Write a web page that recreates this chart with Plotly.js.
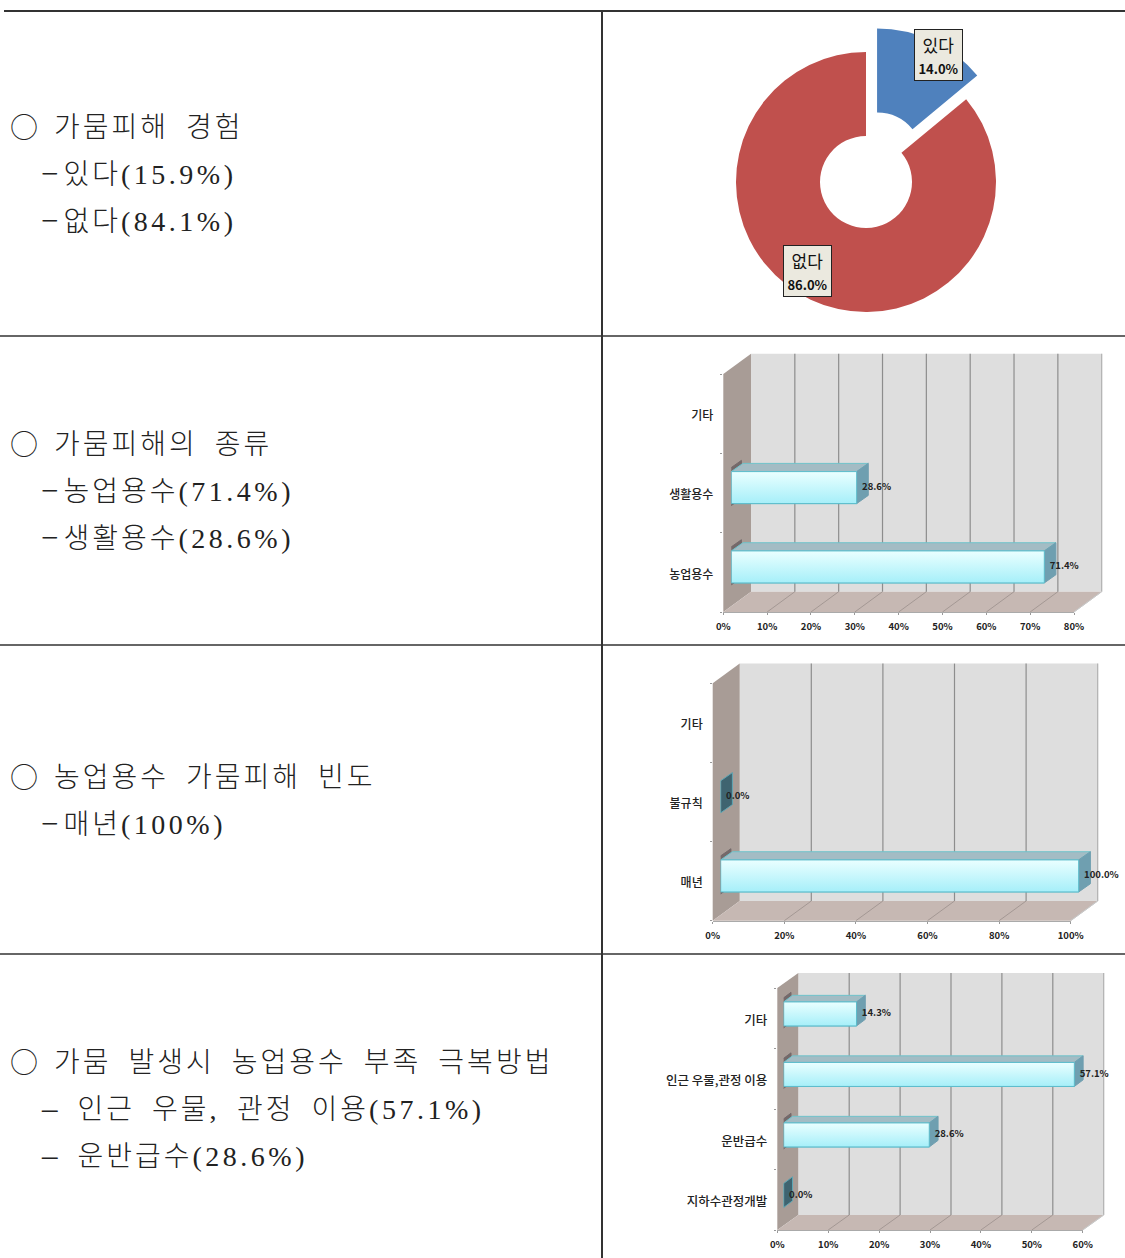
<!DOCTYPE html>
<html><head><meta charset="utf-8">
<script src="https://cdn.plot.ly/plotly-3.0.1.min.js"></script>
<style>html,body{margin:0;padding:0;background:#fff}</style></head>
<body><div id="chart" style="width:1125px;height:1258px"></div>
<script>
// ---- data ----
const pieLabels = ['있다', '없다'];
const pieValues = [14.0, 86.0];

const typeCats = ['농업용수', '생활용수', '기타'];
const typeVals = [71.4, 28.6, null];
const typeTicks = [0, 10, 20, 30, 40, 50, 60, 70, 80];

const freqCats = ['매년', '불규칙', '기타'];
const freqVals = [100.0, 0.0, null];
const freqTicks = [0, 20, 40, 60, 80, 100];

const copeCats = ['지하수관정개발', '운반급수', '인근 우물,관정 이용', '기타'];
const copeVals = [0.0, 28.6, 57.1, 14.3];
const copeTicks = [0, 10, 20, 30, 40, 50, 60];

const textHeadings = ['가뭄피해 경험', '가뭄피해의 종류', '농업용수 가뭄피해 빈도', '가뭄 발생시 농업용수 부족 극복방법'];
const textLines1 = ['−있다(15.9%)', '−농업용수(71.4%)', '−매년(100%)', '– 인근 우물, 관정 이용(57.1%)'];
const textLines2 = ['−없다(84.1%)', '−생활용수(28.6%)', '', '– 운반급수(28.6%)'];

// ---- page geometry ----
const W = 1125, H = 1258;
const px = v => v / W, py = v => 1 - v / H;
const BOLD = "'Noto Sans CJK KR','Noto Sans',sans-serif";

const charts = [
  {cats: typeCats, vals: typeVals, ticks: typeTicks, x0: 723.3, x1: 1074, yTop: 374, yBot: 612,
   back: [27.7, -20.3], shift: [8, -5.4], depth: [11.6, -8.2], faceH: 32, catSize: 12},
  {cats: freqCats, vals: freqVals, ticks: freqTicks, x0: 712.7, x1: 1070.7, yTop: 683.3, yBot: 920.7,
   back: [27, -19.7], shift: [8, -5.2], depth: [11.7, -8.2], faceH: 32, catSize: 12},
  {cats: copeCats, vals: copeVals, ticks: copeTicks, x0: 777.3, x1: 1082.7, yTop: 988, yBot: 1230,
   back: [21, -15], shift: [6.4, -4.3], depth: [8.8, -6.6], faceH: 24, catSize: 12.5}
];

const traces = [], shapes = [], annotations = [], layout = {};
const poly = (pts, fill, line, lw) => ({type: 'path', layer: 'below', xref: 'paper', yref: 'paper',
  path: 'M' + pts.map(p => px(p[0]) + ',' + py(p[1])).join('L') + 'Z',
  fillcolor: fill, line: {color: line || fill, width: lw === undefined ? 0 : lw}});
const seg = (a, b, c, w) => ({type: 'line', layer: 'below', xref: 'paper', yref: 'paper',
  x0: px(a[0]), y0: py(a[1]), x1: px(b[0]), y1: py(b[1]), line: {color: c, width: w}});

// table rules
shapes.push(seg([4, 11], [1125, 11], '#333333', 2));
[336, 645, 954].forEach(y => shapes.push(seg([0, y], [1125, y], '#333333', 1.4)));
shapes.push(seg([602, 11], [602, 1258], '#333333', 2));

// ---- doughnut ----
const pieCx = 866, pieCy = 182, pieR = 130, pull = 0.2, pieD = pieR * (1 + pull);
traces.push({type: 'pie', labels: pieLabels, values: pieValues, sort: false, direction: 'clockwise', rotation: 0,
  hole: 46 / 130, pull: [pull, 0], textinfo: 'none', showlegend: false,
  marker: {colors: ['#4f81bd', '#c0504d'], line: {width: 0}},
  domain: {x: [px(pieCx - pieD), px(pieCx + pieD)], y: [py(pieCy + pieD), py(pieCy - pieD)]}});
[[938, 54.8], [807.5, 270.5]].forEach((c, i) => annotations.push({
  xref: 'paper', yref: 'paper', x: px(c[0]), y: py(c[1]), xanchor: 'center', yanchor: 'middle', showarrow: false,
  width: 47, height: 50, align: 'center', valign: 'middle', bgcolor: '#ebe9df', bordercolor: '#222222', borderwidth: 1, borderpad: 0,
  font: {family: BOLD, size: 17, color: '#111'},
  text: pieLabels[i] + '<br><span style="font-size:13px;font-weight:700">' + pieValues[i].toFixed(1) + '%</span>'}));

// ---- pseudo-3D bar panels ----
charts.forEach((c, k) => {
  const n = c.cats.length, i0 = 2 * k + 1, i1 = 2 * k + 2;
  const vx = 'xaxis' + (i0 === 1 ? '' : i0), vy = 'yaxis' + (i0 === 1 ? '' : i0);
  const hx = 'xaxis' + i1, hy = 'yaxis' + i1;
  const vmax = c.ticks[c.ticks.length - 1];
  const pxU = (c.x1 - c.x0) / vmax, pxC = (c.yBot - c.yTop) / n;
  const bx = c.back[0], by = c.back[1];
  const X = v => c.x0 + v * pxU;

  // walls
  shapes.push(poly([[c.x0 + bx, c.yTop + by], [c.x1 + bx, c.yTop + by], [c.x1 + bx, c.yBot + by], [c.x0 + bx, c.yBot + by]], '#dedede'));
  shapes.push(poly([[c.x0, c.yTop], [c.x0 + bx, c.yTop + by], [c.x0 + bx, c.yBot + by], [c.x0, c.yBot]], '#a89c96'));
  shapes.push(poly([[c.x0, c.yBot], [c.x1, c.yBot], [c.x1 + bx, c.yBot + by], [c.x0 + bx, c.yBot + by]], '#c6b8b3'));
  shapes.push(seg([c.x1 + bx, c.yTop + by], [c.x1 + bx, c.yBot + by], '#b0b0b0', 1.2));
  shapes.push(seg([c.x1, c.yBot], [c.x1 + bx, c.yBot + by], '#c8c8c8', 1));
  c.ticks.slice(1).forEach(t => {
    if (t < vmax) shapes.push(seg([X(t) + bx, c.yTop + by], [X(t) + bx, c.yBot + by], '#8d8d8d', 1.2));
    shapes.push(seg([X(t), c.yBot], [X(t) + bx, c.yBot + by], t === vmax ? '#c8c8c8' : '#9a8f8b', 0.8));
  });

  // visible axes, on the front plane
  layout[vx] = {domain: [px(c.x0), px(c.x1)], range: [0, vmax], anchor: 'y' + (i0 === 1 ? '' : i0), tickmode: 'array', tickvals: c.ticks,
    ticktext: c.ticks.map(t => t + '%'), ticks: 'outside', ticklen: 2, tickcolor: '#999', showgrid: false, zeroline: false,
    showline: true, linecolor: '#aaa', linewidth: 1, ticklabelstandoff: 4,
    tickfont: {family: BOLD, size: 9.5, color: '#222', weight: 700}, fixedrange: true};
  const boundaries = []; for (let i = 0; i <= n; i++) boundaries.push(i - 0.5);
  layout[vy] = {domain: [py(c.yBot), py(c.yTop)], range: [-0.5, n - 0.5], anchor: 'x' + (i0 === 1 ? '' : i0), tickmode: 'array',
    tickvals: c.cats.map((_, i) => i), ticktext: c.cats, ticks: '', showgrid: false, zeroline: false, showline: false,
    minor: {tickmode: 'array', tickvals: boundaries, ticks: 'outside', ticklen: 2, tickcolor: '#999', showgrid: false},
    ticklabelstandoff: 9, ticklabelshift: 2, tickfont: {family: BOLD, size: c.catSize, color: '#222', weight: 500}, fixedrange: true};
  // carrier so the front-plane axes are drawn
  traces.push({type: 'scatter', mode: 'markers', x: c.vals.map(() => 0), y: c.cats.map((_, i) => i), marker: {opacity: 0, size: 1},
    xaxis: 'x' + (i0 === 1 ? '' : i0), yaxis: 'y' + (i0 === 1 ? '' : i0), showlegend: false, hoverinfo: 'skip'});

  // hidden axes on the bars' own plane (same scale, offset in depth)
  const sx = c.x0 + c.shift[0], sb = c.yBot + c.shift[1], st = c.yTop + c.shift[1] - 30;
  layout[hx] = {domain: [px(sx), 1], range: [0, (W - sx) / pxU], anchor: 'y' + i1, visible: false, fixedrange: true};
  layout[hy] = {domain: [py(sb), py(st)], range: [-0.5, n - 0.5 + 30 / pxC], anchor: 'x' + i1, visible: false, fixedrange: true};
  const on = {xaxis: 'x' + i1, yaxis: 'y' + i1, showlegend: false, hoverinfo: 'skip'};
  const dX = c.depth[0] / pxU, dY = -c.depth[1] / pxC, hw = c.faceH / pxC / 2;
  const idx = c.vals.map((v, i) => v === null ? null : i).filter(i => i !== null);
  const tr = (pts, fill, line) => traces.push(Object.assign({type: 'scatter', mode: 'lines', fill: 'toself',
    x: pts.map(p => p[0]), y: pts.map(p => p[1]), fillcolor: fill, line: {color: line, width: 1}}, on));

  idx.forEach(i => {
    const v = c.vals[i], lo = i - hw, hi = i + hw;
    if (v > 0) {
      const e = 1.5 / pxU, f = 3 / pxC;
      tr([[-e, lo - f], [-e + dX, lo - f + dY], [-e + dX, hi + f + dY], [-e, hi + f]], '#74696a', '#74696a');
    }
  });
  traces.push(Object.assign({type: 'bar', orientation: 'h', x: idx.map(i => c.vals[i]), y: idx, width: 2 * hw,
    marker: {color: '#c8f6fb', line: {color: '#5cbccb', width: 1}}}, on));
  idx.forEach(i => {
    const v = c.vals[i], lo = i - hw, hi = i + hw;
    if (v > 0) {
      tr([[0, hi], [v, hi], [v + dX, hi + dY], [dX, hi + dY], [0, hi]], '#a3bcc4', '#6fc3cb');
      tr([[v, lo], [v + dX, lo + dY], [v + dX, hi + dY], [v, hi], [v, lo]], '#6f9fb0', '#6f9fb0');
      traces.push(Object.assign({type: 'scatter', mode: 'lines', fill: 'toself', x: [0, v, v, 0, 0], y: [lo, lo, hi, hi, lo],
        line: {color: '#5cbccb', width: 1},
        fillgradient: {type: 'vertical', colorscale: [[0, '#a6eff9'], [1, '#eaffff']]}}, on));
    } else {
      tr([[0, lo], [dX, lo + dY], [dX, hi + dY], [0, hi], [0, lo]], '#3f6470', '#5fa6b4');
    }
  });
  // value labels (a transparent marker keeps them clear of the bar end)
  traces.push(Object.assign({type: 'scatter', mode: 'markers+text', x: idx.map(i => c.vals[i]), y: idx,
    marker: {size: 7, opacity: 0},
    text: idx.map(i => c.vals[i].toFixed(1) + '%'), textposition: 'middle right',
    textfont: {family: BOLD, size: 9.5, color: '#222', weight: 700}}, on));
});

// ---- left column text ----
const latin = s => s.replace(/[0-9().%,]+/g, m => `<span style="letter-spacing:3.5px">${m}</span>`)
  .replace(/−/g, m => `<span style="font-size:31px;letter-spacing:5px">${m}</span>`)
  .replace(/–/g, m => `<span style="font-size:31px">${m}</span>`);
const styled = s => `<span style="letter-spacing:3px;word-spacing:7px">${latin(s)}</span>`;
const rows = [127.5, 444.5, 777.5, 1062.5];
rows.forEach((y, i) => {
  const base = {xref: 'paper', yref: 'paper', xanchor: 'left', yanchor: 'middle', showarrow: false, borderpad: 0,
    font: {family: "'Liberation Serif','Noto Sans CJK KR',serif", size: 28, color: '#222', weight: 300}};
  annotations.push(Object.assign({}, base, {x: px(9), y: py(y - 1.5), text: '○', font: {family: BOLD, size: 28, color: '#222', weight: 300}}));
  annotations.push(Object.assign({}, base, {x: px(53), y: py(y), text: styled(textHeadings[i])}));
  annotations.push(Object.assign({}, base, {x: px(40), y: py(y + 46), text: styled(textLines1[i])}));
  if (textLines2[i]) annotations.push(Object.assign({}, base, {x: px(40), y: py(y + 93), text: styled(textLines2[i])}));
});

Object.assign(layout, {width: W, height: H, margin: {l: 0, r: 0, t: 0, b: 0}, paper_bgcolor: '#fff', plot_bgcolor: 'rgba(0,0,0,0)',
  showlegend: false, shapes, annotations, hovermode: false});
Plotly.newPlot('chart', traces, layout, {displayModeBar: false, staticPlot: true});
</script></body></html>
